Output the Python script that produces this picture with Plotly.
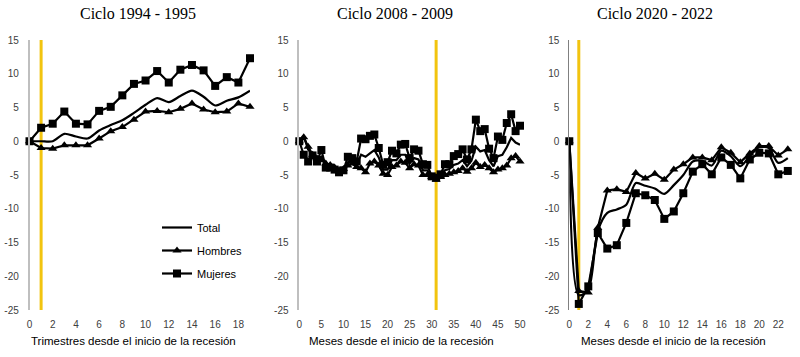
import plotly.graph_objects as go

# ---------------- data ----------------
x_p1 = list(range(20))
total_p1 = [0, 0, 0, 1.1, 0.7, 0.4, 1.6, 2.4, 3.1, 4.2, 5.4, 6.4, 5.8, 6.7, 7.5, 6.6, 5.3, 6.0, 6.5, 7.5]
hombres_p1 = [0, -1.0, -1.1, -0.6, -0.6, -0.6, 0.4, 1.5, 2.1, 3.2, 4.4, 4.5, 4.3, 4.8, 5.6, 4.7, 4.3, 4.4, 5.6, 5.1]
mujeres_p1 = [0, 2.0, 2.6, 4.4, 2.6, 2.5, 4.5, 5.1, 6.8, 8.5, 9.0, 10.4, 8.7, 10.6, 11.3, 10.5, 8.2, 9.5, 8.7, 12.3]

x_p2 = list(range(51))
total_p2 = [0, 0.8, -1.2, -2.0, -2.6, -2.3, -3.4, -3.6, -4.0, -4.4, -4.2, -3.1, -3.0, -3.4, -2.0, -2.3, -1.8,
            -1.3, -2.4, -4.2, -4.2, -2.8, -2.8, -2.0, -2.0, -3.3, -2.5, -2.7, -4.3, -4.3, -5.2, -5.5, -5.1,
            -4.3, -4.1, -3.5, -3.3, -2.8, -3.7, -2.9, -0.8, -1.5, -1.3, -2.8, -3.7, -2.2, -2.0, -0.9, 0.5,
            -0.2, -0.5]
hombres_p2 = [0, 0.6, -0.8, -2.0, -2.5, -2.8, -3.3, -3.5, -3.9, -4.3, -4.1, -3.6, -3.3, -3.8, -4.0, -4.6, -3.3,
              -3.0, -3.6, -4.8, -5.0, -3.8, -3.6, -3.0, -3.2, -4.0, -3.4, -3.6, -5.0, -5.0, -5.3, -5.7, -5.3,
              -5.0, -4.8, -4.6, -4.4, -4.0, -4.5, -4.0, -3.2, -3.8, -3.5, -4.0, -4.6, -4.2, -4.0, -3.6, -2.5,
              -2.2, -3.0]
mujeres_p2 = [0, -2.0, -3.0, -2.1, -3.0, -1.3, -3.9, -3.9, -4.2, -4.6, -4.3, -2.3, -2.5, -3.0, 0.4, 0.3, 0.8,
              1.0, -1.0, -3.5, -3.1, -1.4, -1.8, -0.5, -0.4, -2.5, -1.2, -1.4, -3.4, -3.5, -5.2, -5.4, -4.9,
              -3.4, -3.4, -2.2, -1.9, -1.2, -2.7, -1.2, 3.2, 1.5, 1.8, -1.1, -2.5, 0.7, 0.2, 2.7, 4.0,
              1.5, 2.3]

x_p3 = list(range(24))
total_p3 = [0, -22.8, -22.0, -13.3, -10.6, -10.1, -9.4, -6.2, -6.6, -7.0, -7.8, -6.5, -5.0, -3.0, -2.9, -3.6,
            -1.4, -2.2, -3.7, -2.2, -0.9, -1.0, -3.2, -2.5]
hombres_p3 = [0, -22.2, -22.4, -12.8, -7.3, -7.1, -7.5, -4.7, -5.5, -4.8, -5.7, -4.2, -3.4, -2.4, -2.4, -2.8,
              -0.9, -1.7, -3.1, -1.8, -0.7, -0.7, -2.1, -1.2]
mujeres_p3 = [0, -24.1, -21.5, -13.6, -15.9, -15.4, -12.1, -7.7, -8.0, -8.7, -11.5, -10.4, -7.7, -4.5, -3.4,
              -4.9, -2.4, -3.5, -5.5, -2.7, -1.7, -1.8, -4.9, -4.4]

titles = ["Ciclo 1994 - 1995", "Ciclo 2008 - 2009", "Ciclo 2020 - 2022"]
xtitles = ["Trimestres desde el inicio de la recesión",
           "Meses desde el inicio de la recesión",
           "Meses desde el inicio de la recesión"]
recession_marks = [1, 31, 1]
x_ranges = [[0, 19], [0, 50], [0, 23.2]]
x_label_dticks = [2, 5, 2]
x_tick_dticks = [2, 5, 2]
y_range = [-25, 15]
y_tickvals = [15, 10, 5, 0, -5, -10, -15, -20, -25]
y_ticktext = ["15", "10", "5", "0", "-5", "-10", "-15", "-20", "-25"]
series_names = ["Total", "Hombres", "Mujeres"]

panels = [
    (x_p1, total_p1, hombres_p1, mujeres_p1, True),
    (x_p2, total_p2, hombres_p2, mujeres_p2, False),
    (x_p3, total_p3, hombres_p3, mujeres_p3, True),
]

# ---------------- layout geometry ----------------
W, H = 800, 357
x_domains = [[29.5 / W, 250 / W], [299.3 / W, 520 / W], [569.3 / W, 789.7 / W]]
y_dom = [1 - 310 / H, 1 - 40 / H]
zero_pos = y_dom[0] + (0 - y_range[0]) / (y_range[1] - y_range[0]) * (y_dom[1] - y_dom[0])

fig = go.Figure()
axis_gray = "#BFBFBF"
tick_font = dict(family="Liberation Sans, Arial, sans-serif", size=10, color="#404040")

for k, (xs, tot, hom, muj, smooth) in enumerate(panels):
    xa = "x" if k == 0 else f"x{k+1}"
    ya = "y" if k == 0 else f"y{k+1}"
    show = (k == 0)
    fig.add_trace(go.Scatter(x=xs, y=tot, mode="lines", name=series_names[0],
                             line=dict(color="black", width=2.2, shape="spline" if smooth else "linear",
                                       smoothing=0.8), cliponaxis=False,
                             xaxis=xa, yaxis=ya, showlegend=show, legendgroup="t"))
    fig.add_trace(go.Scatter(x=xs, y=hom, mode="lines+markers", name=series_names[1],
                             line=dict(color="black", width=2.2), cliponaxis=False,
                             marker=dict(symbol="triangle-up", size=8, color="black"),
                             xaxis=xa, yaxis=ya, showlegend=show, legendgroup="h"))
    fig.add_trace(go.Scatter(x=xs, y=muj, mode="lines+markers", name=series_names[2],
                             line=dict(color="black", width=2.2), cliponaxis=False,
                             marker=dict(symbol="square", size=8, color="black"),
                             xaxis=xa, yaxis=ya, showlegend=show, legendgroup="m"))

layout = dict(
    width=W, height=H,
    margin=dict(l=0, r=0, t=0, b=0, autoexpand=False),
    paper_bgcolor="white", plot_bgcolor="white",
    showlegend=True,
    legend=dict(x=157 / W, y=1 - 213 / H, xanchor="left", yanchor="top",
                font=dict(family="Liberation Sans, Arial, sans-serif", size=11, color="black"),
                bgcolor="rgba(0,0,0,0)", tracegroupgap=4, itemwidth=30),
    annotations=[], shapes=[],
)

for k in range(3):
    sx = "" if k == 0 else str(k + 1)
    ylink = "y" if k == 0 else f"y{k+1}"
    xlink = "x" if k == 0 else f"x{k+1}"
    layout[f"xaxis{sx}"] = dict(domain=x_domains[k], range=x_ranges[k], anchor=ylink,
                                showgrid=False, zeroline=False, showline=False, ticks="",
                                dtick=x_label_dticks[k], tick0=0, tickfont=tick_font,
                                ticklabelstandoff=7, automargin=False)
    layout[f"yaxis{sx}"] = dict(domain=y_dom, range=y_range, anchor=xlink,
                                tickvals=y_tickvals, ticktext=y_ticktext,
                                showgrid=False, zeroline=False, showline=True,
                                linecolor=axis_gray if k < 2 else "#808080", linewidth=1.5 if k < 2 else 1,
                                ticks="", tickfont=tick_font, ticklabelstandoff=7, automargin=False)
    # axis drawn at zero with small tick marks
    layout[f"xaxis{k+4}"] = dict(overlaying=xlink, anchor="free", position=zero_pos,
                                 range=x_ranges[k], showgrid=False, zeroline=False, showline=True,
                                 linecolor=axis_gray, linewidth=1.5, ticks="outside", ticklen=4,
                                 tickcolor=axis_gray, dtick=x_tick_dticks[k], tick0=0,
                                 showticklabels=False, automargin=False)
    layout["annotations"].append(dict(text=titles[k], xref="paper", yref="paper",
                                      x=[138 / W, 395 / W, 655 / W][k], y=1 - 14 / H,
                                      xanchor="center", yanchor="middle", showarrow=False,
                                      font=dict(family="Liberation Serif, Times New Roman, serif",
                                                size=16, color="black")))
    layout["annotations"].append(dict(text=xtitles[k], xref="paper", yref="paper",
                                      x=[133 / W, 402 / W, 673 / W][k], y=1 - 341 / H,
                                      xanchor="center", yanchor="middle", showarrow=False,
                                      font=dict(family="Liberation Sans, Arial, sans-serif",
                                                size=11.5, color="black")))
    layout["shapes"].append(dict(type="line", xref=xlink, yref=f"{ylink} domain",
                                 x0=recession_marks[k], x1=recession_marks[k], y0=0, y1=1,
                                 line=dict(color="#F2C40F", width=3), layer="below"))

fig.update_layout(**layout)
fig.write_html("out.html", config={"displayModeBar": False},
               post_script="document.body.style.margin='0';document.body.style.overflow='hidden';")
